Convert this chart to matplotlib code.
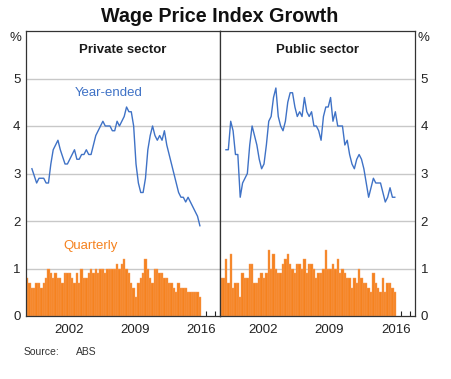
import matplotlib
matplotlib.use("Agg")
import matplotlib.pyplot as plt
import numpy as np

plt.rcParams['font.family'] = ['Liberation Sans', 'DejaVu Sans']

# year-ended growth, Sep qtr 1998 .. Jun qtr 2016 (per cent)
private_ye = [3.1, 2.95, 2.8, 2.9, 2.9, 2.9, 2.8, 2.8, 3.2, 3.5, 3.6, 3.7,
              3.5, 3.35, 3.2, 3.2, 3.3, 3.4, 3.5, 3.3, 3.3, 3.4, 3.4, 3.5,
              3.4, 3.4, 3.6, 3.8, 3.9, 4.0, 4.1, 4.0, 4.0, 4.0, 3.9, 3.9,
              4.1, 4.0, 4.1, 4.2, 4.4, 4.3, 4.3, 4.0, 3.2, 2.8, 2.6, 2.6,
              2.9, 3.5, 3.8, 4.0, 3.8, 3.7, 3.8, 3.7, 3.9, 3.6, 3.4, 3.2,
              3.0, 2.8, 2.6, 2.5, 2.5, 2.4, 2.5, 2.4, 2.3, 2.2, 2.1, 1.9]
public_ye = [3.5, 3.5, 4.1, 3.9, 3.4, 3.4, 2.5, 2.8, 2.9, 3.0, 3.6, 4.0,
             3.8, 3.6, 3.3, 3.1, 3.2, 3.6, 4.1, 4.2, 4.6, 4.8, 4.2, 4.0,
             3.9, 4.1, 4.5, 4.7, 4.7, 4.4, 4.2, 4.3, 4.2, 4.6, 4.3, 4.2,
             4.3, 4.0, 4.0, 3.9, 3.7, 4.2, 4.4, 4.4, 4.6, 4.1, 4.3, 4.0,
             4.0, 4.0, 3.6, 3.7, 3.4, 3.2, 3.1, 3.3, 3.4, 3.3, 3.1, 2.8,
             2.5, 2.7, 2.9, 2.8, 2.8, 2.8, 2.6, 2.4, 2.5, 2.7, 2.5, 2.5]

# quarterly growth, Mar qtr 1998 .. Jun qtr 2016 (per cent)
private_q = [0.8, 0.7, 0.6, 0.6, 0.7, 0.7, 0.6, 0.7, 0.8, 1.0, 0.9, 0.8,
             0.9, 0.8, 0.8, 0.7, 0.9, 0.9, 0.9, 0.8, 0.7, 0.9, 0.7, 1.0,
             0.8, 0.8, 0.9, 1.0, 0.9, 1.0, 0.9, 1.0, 1.0, 0.9, 1.0, 1.0,
             1.0, 1.0, 1.1, 1.0, 1.1, 1.2, 1.0, 0.9, 0.7, 0.6, 0.4, 0.7,
             0.8, 0.9, 1.2, 1.0, 0.8, 0.7, 1.0, 1.0, 0.9, 0.9, 0.8, 0.8,
             0.7, 0.7, 0.6, 0.5, 0.7, 0.6, 0.6, 0.6, 0.5, 0.5, 0.5, 0.5,
             0.5, 0.4]
public_q = [0.8, 0.8, 1.2, 0.7, 1.3, 0.6, 0.7, 0.7, 0.4, 0.9, 0.8, 0.8,
            1.1, 1.1, 0.7, 0.7, 0.8, 0.9, 0.8, 0.9, 1.4, 1.0, 1.3, 1.0,
            0.9, 0.9, 1.1, 1.2, 1.3, 1.1, 1.0, 0.9, 1.1, 1.1, 1.0, 1.2,
            0.9, 1.1, 1.1, 1.0, 0.8, 0.9, 0.9, 1.0, 1.4, 1.0, 1.0, 1.1,
            1.0, 1.2, 0.9, 1.0, 0.9, 0.8, 0.8, 0.6, 0.8, 0.7, 1.0, 0.8,
            0.7, 0.7, 0.6, 0.5, 0.9, 0.7, 0.6, 0.5, 0.8, 0.5, 0.7, 0.7,
            0.6, 0.5]

panel_titles = ['Private sector', 'Public sector']
year_labels = ['2002', '2009', '2016']

blue = '#3f72c6'
orange = '#f5821f'

t_ye = 1998.625 + 0.25 * np.arange(len(private_ye))
t_q = 1998.125 + 0.25 * np.arange(len(private_q))

fig = plt.figure(figsize=(4.51, 3.79), dpi=100)
axes = [fig.add_axes([26/451, 1 - 316/379, 194/451, 285/379]),
        fig.add_axes([220/451, 1 - 316/379, 195/451, 285/379])]

for i, ax in enumerate(axes):
    ye = [private_ye, public_ye][i]
    q = [private_q, public_q][i]
    ax.bar(t_q, q, width=0.25, color=orange, edgecolor='#f7a060',
           linewidth=0.3, zorder=2)
    ax.plot(t_ye, ye, color=blue, linewidth=1.0, zorder=3)
    ax.set_xlim(1998.0, 2018.5)
    ax.set_ylim(0, 6)
    for yv in range(1, 6):
        ax.axhline(yv, color='#c8c8c8', linewidth=1.0, zorder=1)
    ax.set_yticks(range(0, 6))
    ax.set_xticks([2002.5, 2009.5, 2016.5])
    ax.set_xticklabels(year_labels)
    ax.set_xticks(np.arange(1999, 2019), minor=True)
    ax.tick_params(axis='x', which='major', length=0, labelsize=9.5,
                   pad=6, colors='#222222')
    ax.tick_params(axis='x', which='minor', direction='in', length=3.5,
                   width=0.8, color='#222222')
    if i == 0:
        ax.tick_params(axis='y', length=0, labelsize=9.5, pad=4,
                       labelleft=True, labelright=False, colors='#222222')
    else:
        ax.tick_params(axis='y', length=0, labelsize=9.5, pad=4,
                       labelleft=False, labelright=True, colors='#222222')
    for sp in ax.spines.values():
        sp.set_color('#333333')
        sp.set_linewidth(0.9)
    ax.text(0.5, 0.955, panel_titles[i], transform=ax.transAxes,
            ha='center', va='top', fontsize=9.5, fontweight='bold',
            color='#1a1a1a')

axes[0].text(2003.2, 4.7, 'Year-ended', color=blue, fontsize=9.5,
             ha='left', va='center')
axes[0].text(2001.9, 1.48, 'Quarterly', color=orange, fontsize=9.5,
             ha='left', va='center')

fig.text(15/451, 1 - 38/379, '%', fontsize=9.5, ha='center', va='center',
         color='#222222')
fig.text(423/451, 1 - 38/379, '%', fontsize=9.5, ha='center', va='center',
         color='#222222')
fig.text(220/451, 1 - 16/379, 'Wage Price Index Growth', fontsize=14.2,
         fontweight='bold', ha='center', va='center', color='#111111')
fig.text(24/451, 1 - 352/379, 'Source:', fontsize=7.5, ha='left',
         va='center', color='#333333')
fig.text(76/451, 1 - 352/379, 'ABS', fontsize=7.5, ha='left',
         va='center', color='#333333')

fig.savefig('out.png', dpi=100)
